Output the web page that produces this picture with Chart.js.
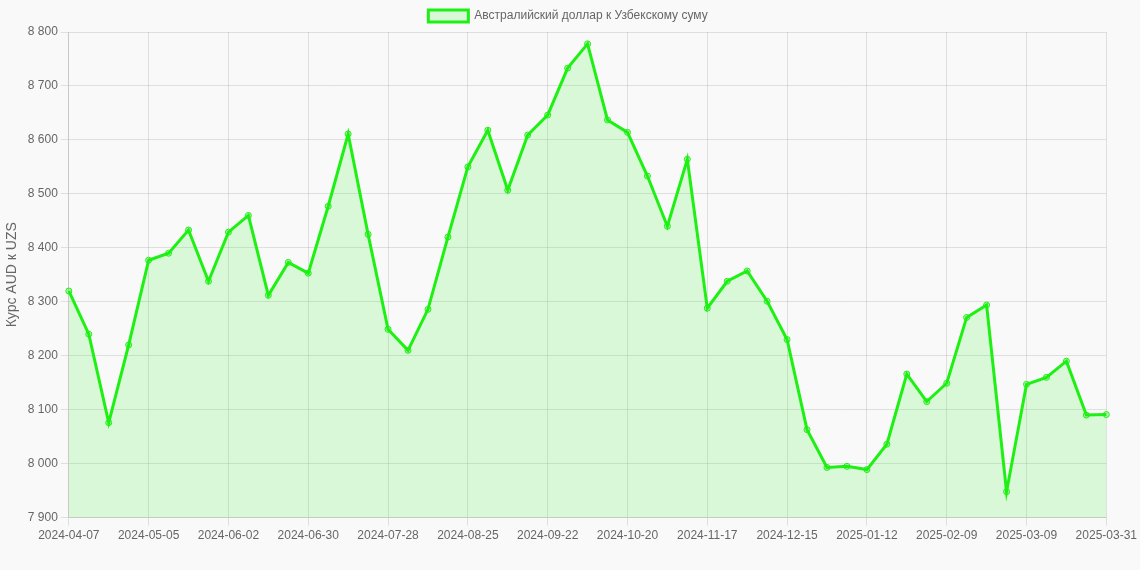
<!DOCTYPE html>
<html>
<head>
<meta charset="utf-8">
<script src="https://cdn.jsdelivr.net/npm/chart.js@4"></script>
<style>
  html, body { margin: 0; padding: 0; background: #f9f9f9; }
  #wrap { width: 1140px; height: 570px; }
</style>
</head>
<body>
<div id="wrap"><canvas id="chart"></canvas></div>
<script>
const labels = [
  "2024-04-07","2024-04-14","2024-04-21","2024-04-28","2024-05-05","2024-05-12","2024-05-19","2024-05-26",
  "2024-06-02","2024-06-09","2024-06-16","2024-06-23","2024-06-30","2024-07-07","2024-07-14","2024-07-21",
  "2024-07-28","2024-08-04","2024-08-11","2024-08-18","2024-08-25","2024-09-01","2024-09-08","2024-09-15",
  "2024-09-22","2024-09-29","2024-10-06","2024-10-13","2024-10-20","2024-10-27","2024-11-03","2024-11-10",
  "2024-11-17","2024-11-24","2024-12-01","2024-12-08","2024-12-15","2024-12-22","2024-12-29","2025-01-05",
  "2025-01-12","2025-01-19","2025-01-26","2025-02-02","2025-02-09","2025-02-16","2025-02-23","2025-03-02",
  "2025-03-09","2025-03-16","2025-03-23","2025-03-30","2025-03-31"
];

const audUzs = [
  8320, 8240, 8076, 8220, 8377, 8390, 8433, 8338,
  8429, 8460, 8312, 8373, 8353, 8477, 8611, 8425,
  8249, 8210, 8286, 8420, 8550, 8618, 8507, 8609,
  8646, 8733, 8778, 8637, 8614, 8533, 8440, 8564,
  8288, 8338, 8357, 8301, 8230, 8063, 7993, 7995,
  7989, 8036, 8166, 8115, 8149, 8271, 8294, 7948,
  8147, 8160, 8190, 8090, 8091
];

const lineColor = "rgb(30,240,20)";
const font = { family: "'Liberation Sans', Arial, sans-serif", size: 12 };

new Chart(document.getElementById("chart"), {
  type: "line",
  data: {
    labels: labels,
    datasets: [{
      label: "Австралийский доллар к Узбекскому суму",
      data: audUzs,
      borderColor: lineColor,
      backgroundColor: "rgba(30,240,20,0.15)",
      fill: true,
      borderWidth: 3,
      tension: 0,
      pointRadius: 3,
      pointBorderWidth: 1,
      pointBackgroundColor: "rgba(30,240,20,0.3)",
      pointBorderColor: lineColor
    }]
  },
  options: {
    responsive: true,
    maintainAspectRatio: false,
    animation: false,
    layout: { padding: { right: 4, bottom: 24 } },
    plugins: {
      legend: {
        position: "top",
        labels: { boxWidth: 40, color: "#666", font: font }
      }
    },
    scales: {
      x: {
        grid: { color: "rgba(0,0,0,0.1)" },
        ticks: {
          autoSkip: false,
          maxRotation: 0,
          color: "#666",
          font: font,
          // every 4th week plus the last point
          callback: (value, index) =>
            (index % 4 === 0 || index === labels.length - 1) ? labels[index] : null
        }
      },
      y: {
        min: 7900,
        max: 8800,
        grid: { color: "rgba(0,0,0,0.1)" },
        ticks: {
          stepSize: 100,
          color: "#666",
          font: font,
          callback: v => v.toLocaleString("ru-RU").replace(/\s/g, " ")
        },
        title: {
          display: true,
          text: "Курс AUD к UZS",
          color: "#666",
          font: { family: font.family, size: 14 }
        }
      }
    }
  }
});
</script>
</body>
</html>
